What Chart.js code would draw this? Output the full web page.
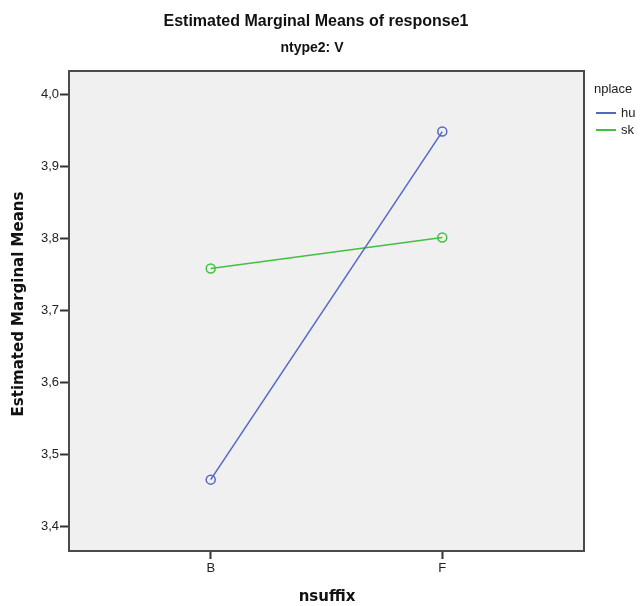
<!DOCTYPE html>
<html>
<head>
<meta charset="utf-8">
<script src="https://cdn.jsdelivr.net/npm/chart.js@4.4.0/dist/chart.umd.min.js"></script>
<style>
  html, body { margin: 0; padding: 0; background: #fff; }
  #wrap { width: 641px; height: 606px; }
</style>
</head>
<body>
<div id="wrap"><canvas id="c" width="641" height="606"></canvas></div>
<script>
// --- data ---
const categories = ['B', 'F'];
const huValues = [3.465, 3.948];
const skValues = [3.758, 3.801];
const yTicks = [3.4, 3.5, 3.6, 3.7, 3.8, 3.9, 4.0];

const FONT = '"Liberation Sans", Arial, sans-serif';
const WIDE = '"DejaVu Sans", Verdana, sans-serif';
const HU = '#5468c0';
const SK = '#42c042';

// background, frame, titles and legend, SPSS style
const decor = {
    id: 'decor',
    beforeDatasetsDraw(chart) {
        const a = chart.chartArea, ctx = chart.ctx;
        ctx.save();
        ctx.fillStyle = '#f0f0f0';
        ctx.fillRect(a.left, a.top, a.right - a.left, a.bottom - a.top);
        ctx.restore();
    },
    afterDraw(chart) {
        const a = chart.chartArea, ctx = chart.ctx;
        ctx.save();
        ctx.strokeStyle = '#4a4a4a';
        ctx.lineWidth = 2;
        ctx.strokeRect(a.left, a.top, a.right - a.left, a.bottom - a.top);

        ctx.fillStyle = '#111';
        ctx.textAlign = 'center';
        ctx.textBaseline = 'middle';
        ctx.font = 'bold 16px ' + FONT;
        ctx.fillText('Estimated Marginal Means of response1', 316, 22);
        ctx.font = 'bold 14px ' + FONT;
        ctx.fillText('ntype2: V', 312, 48);
        ctx.font = 'bold 15px ' + WIDE;
        ctx.fillText('nsuffix', 327, 597);
        ctx.translate(19, 304);
        ctx.rotate(-Math.PI / 2);
        ctx.fillText('Estimated Marginal Means', 0, 0);
        ctx.restore();

        // legend
        ctx.save();
        ctx.font = '13px ' + FONT;
        ctx.fillStyle = '#222';
        ctx.textBaseline = 'middle';
        ctx.fillText('nplace', 594, 89);
        [['hu', HU, 113], ['sk', SK, 130]].forEach(([t, col, y]) => {
            ctx.strokeStyle = col;
            ctx.lineWidth = 2;
            ctx.beginPath();
            ctx.moveTo(596, y);
            ctx.lineTo(616, y);
            ctx.stroke();
            ctx.fillText(t, 621, y);
        });
        ctx.restore();
    }
};

const toPts = vals => vals.map((v, i) => ({ x: i, y: v }));

new Chart(document.getElementById('c'), {
    type: 'line',
    data: {
        datasets: [
            {
                label: 'hu',
                data: toPts(huValues),
                borderColor: HU,
                borderWidth: 1.5,
                pointRadius: 4.5,
                pointBorderWidth: 1.5,
                pointBackgroundColor: 'transparent',
                pointBorderColor: HU,
                tension: 0,
            },
            {
                label: 'sk',
                data: toPts(skValues),
                borderColor: SK,
                borderWidth: 1.5,
                pointRadius: 4.5,
                pointBorderWidth: 1.5,
                pointBackgroundColor: 'transparent',
                pointBorderColor: SK,
                tension: 0,
            }
        ]
    },
    options: {
        responsive: false,
        animation: false,
        layout: { padding: { left: 0, top: 71, right: 57, bottom: 0 } },
        plugins: {
            legend: { display: false },
            tooltip: { enabled: false },
        },
        scales: {
            x: {
                type: 'linear',
                min: -0.612,
                max: 1.612,
                afterBuildTicks: axis => { axis.ticks = categories.map((c, i) => ({ value: i })); },
                afterFit: axis => { axis.height = 55; },
                ticks: {
                    callback: v => categories[v] ?? '',
                    font: { size: 13, family: FONT },
                    color: '#222',
                    padding: 2,
                },
                grid: { drawOnChartArea: false, tickLength: 8, color: '#333', tickWidth: 2 },
                border: { display: false },
            },
            y: {
                min: 3.366,
                max: 4.032,
                afterBuildTicks: axis => { axis.ticks = yTicks.map(v => ({ value: v })); },
                afterFit: axis => { axis.width = 69; },
                ticks: {
                    callback: v => v.toFixed(1).replace('.', ','),
                    font: { size: 13, family: FONT },
                    color: '#222',
                    padding: 1,
                },
                grid: { drawOnChartArea: false, tickLength: 9, color: '#333', tickWidth: 2 },
                border: { display: false },
            }
        }
    },
    plugins: [decor]
});
</script>
</body>
</html>
